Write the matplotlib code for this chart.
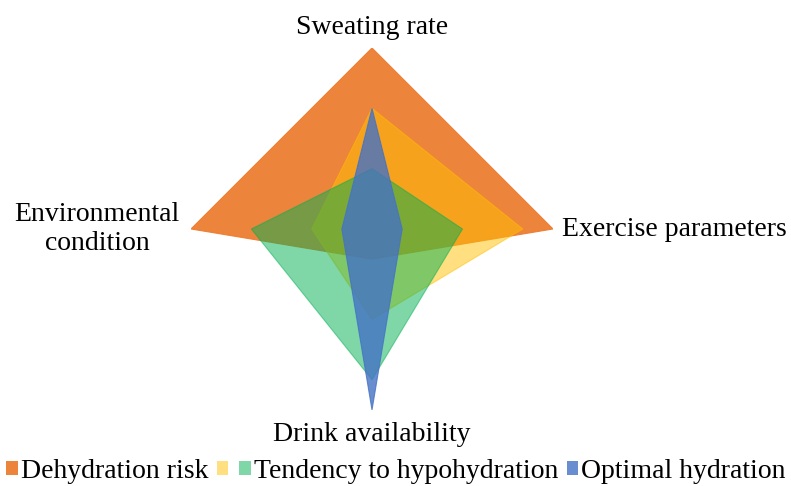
import numpy as np
import matplotlib
matplotlib.use("Agg")
import matplotlib.pyplot as plt
from matplotlib.patches import Patch

categories = ["Sweating rate", "Exercise parameters", "Drink availability", "Environmental\ncondition"]
series_names = ["Dehydration risk", "", "Tendency to hypohydration", "Optimal hydration"]
dehydration_risk = [3.0, 3.0, 0.5, 3.0]
unnamed_series = [2.0, 2.5, 1.5, 1.0]
tendency_hypohydration = [1.0, 1.5, 2.5, 2.0]
optimal_hydration = [2.0, 0.5, 3.0, 0.5]
series_values = [dehydration_risk, unnamed_series, tendency_hypohydration, optimal_hydration]
colors = ["#ED7D31", "#FFC000", "#00B050", "#4472C4"]
alphas = [0.95, 0.5, 0.5, 0.8]

plt.rcParams['font.family'] = ['Liberation Serif', 'DejaVu Serif']

fig = plt.figure(figsize=(7.91, 4.86), dpi=100)
ax = fig.add_axes([0.2415, 0.1564, 0.4576, 0.7449], projection='polar')
ax.set_theta_zero_location('N')
ax.set_theta_direction(-1)
n = len(categories)
angles = np.arange(n) * 2 * np.pi / n
for vals, c, a in zip(series_values, colors, alphas):
    th = np.concatenate([angles, angles[:1]])
    r = np.concatenate([vals, vals[:1]])
    ax.fill(th, r, color=c, alpha=a, lw=0.8, edgecolor=c, zorder=2)
ax.set_ylim(0, 3)
ax.set_yticks([])
ax.set_xticks([])
ax.grid(False)
ax.spines['polar'].set_visible(False)
ax.patch.set_alpha(0)

fs = 20
fig.text(372/791, 1-28/486, categories[0], ha='center', va='center', fontsize=fs)
fig.text(562/791, 1-229/486, categories[1], ha='left', va='center', fontsize=fs)
fig.text(372/791, 1-434/486, categories[2], ha='center', va='center', fontsize=fs)
fig.text(97/791, 1-229/486, categories[3], ha='center', va='center', fontsize=fs, linespacing=1.2)

handles = [Patch(facecolor=c, alpha=a) for c, a in zip(colors, alphas)]
leg = fig.legend(handles, series_names, loc='center', bbox_to_anchor=(396/791, 1-471/486),
                 ncol=4, frameon=False, fontsize=20, handlelength=0.4, handleheight=0.4,
                 handletextpad=0.12, columnspacing=0.3, borderpad=0, borderaxespad=0)
fig.savefig("out.png", dpi=100)
